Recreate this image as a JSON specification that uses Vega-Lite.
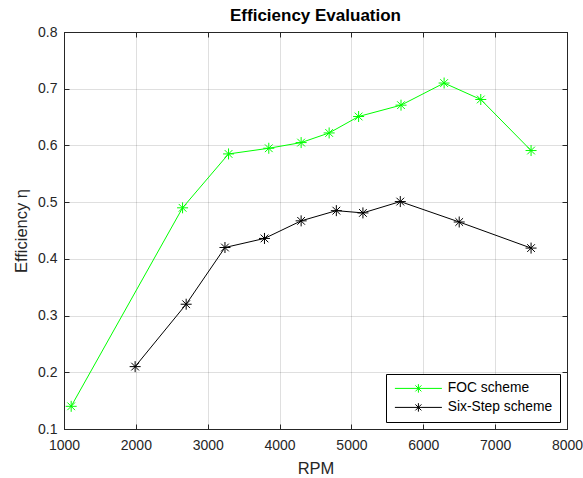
{
  "$schema": "https://vega.github.io/schema/vega-lite/v6.json",
  "width": 503,
  "height": 397,
  "autosize": "none",
  "padding": {"left": 64, "top": 32, "right": 16, "bottom": 49},
  "background": "white",
  "title": {"text": "Efficiency Evaluation", "font": "Liberation Sans", "fontSize": 17, "fontWeight": "bold", "color": "#000000", "offset": 0},
  "config": {
    "view": {"stroke": "#262626", "strokeWidth": 1},
    "axis": {
      "domainColor": "#262626",
      "tickColor": "#262626",
      "tickSize": -5,
      "labelFont": "Liberation Sans",
      "labelFontSize": 14,
      "labelColor": "#262626",
      "titleFont": "Liberation Sans",
      "titleFontSize": 16.5,
      "titleFontWeight": "normal",
      "titleColor": "#262626",
      "gridColor": "#262626",
      "gridOpacity": 0.15
    }
  },
  "data": {
    "values": [
      {"rpm": 1100, "eff": 0.14, "scheme": "FOC scheme"},
      {"rpm": 2650, "eff": 0.49, "scheme": "FOC scheme"},
      {"rpm": 3290, "eff": 0.585, "scheme": "FOC scheme"},
      {"rpm": 3850, "eff": 0.595, "scheme": "FOC scheme"},
      {"rpm": 4300, "eff": 0.605, "scheme": "FOC scheme"},
      {"rpm": 4690, "eff": 0.622, "scheme": "FOC scheme"},
      {"rpm": 5100, "eff": 0.651, "scheme": "FOC scheme"},
      {"rpm": 5690, "eff": 0.671, "scheme": "FOC scheme"},
      {"rpm": 6290, "eff": 0.71, "scheme": "FOC scheme"},
      {"rpm": 6800, "eff": 0.681, "scheme": "FOC scheme"},
      {"rpm": 7500, "eff": 0.591, "scheme": "FOC scheme"},
      {"rpm": 1990, "eff": 0.21, "scheme": "Six-Step scheme"},
      {"rpm": 2700, "eff": 0.32, "scheme": "Six-Step scheme"},
      {"rpm": 3240, "eff": 0.42, "scheme": "Six-Step scheme"},
      {"rpm": 3790, "eff": 0.436, "scheme": "Six-Step scheme"},
      {"rpm": 4300, "eff": 0.467, "scheme": "Six-Step scheme"},
      {"rpm": 4790, "eff": 0.485, "scheme": "Six-Step scheme"},
      {"rpm": 5160, "eff": 0.481, "scheme": "Six-Step scheme"},
      {"rpm": 5680, "eff": 0.501, "scheme": "Six-Step scheme"},
      {"rpm": 6500, "eff": 0.465, "scheme": "Six-Step scheme"},
      {"rpm": 7500, "eff": 0.419, "scheme": "Six-Step scheme"}
    ]
  },
  "resolve": {"axis": {"x": "independent", "y": "independent"}},
  "layer": [
    {
      "mark": {"type": "line", "strokeWidth": 1},
      "encoding": {
        "x": {"field": "rpm", "type": "quantitative", "scale": {"domain": [1000, 8000], "nice": false, "zero": false},
              "axis": {"title": "RPM", "values": [1000,2000,3000,4000,5000,6000,7000,8000], "format": "d", "labelPadding": 14, "titlePadding": 8, "labelFlush": false, "labelOverlap": false}},
        "y": {"field": "eff", "type": "quantitative", "scale": {"domain": [0.1, 0.8], "nice": false, "zero": false},
              "axis": {"title": "Efficiency η", "values": [0.1,0.2,0.3,0.4,0.5,0.6,0.7,0.8], "format": ".1f", "labelPadding": 12, "titlePadding": 8, "labelFlush": false, "labelOverlap": false}},
        "color": {"field": "scheme", "type": "nominal",
                  "scale": {"domain": ["FOC scheme", "Six-Step scheme"], "range": ["#00ff00", "#000000"]},
                  "legend": {
                    "title": null,
                    "orient": "none",
                    "legendX": 322,
                    "legendY": 342,
                    "strokeColor": "#000000",
                    "fillColor": "#ffffff",
                    "padding": 7.5,
                    "symbolType": "M-4.7,0L4.7,0M0,-0.85L0,0.85M-0.6,-0.6L0.6,0.6M-0.6,0.6L0.6,-0.6",
                    "symbolSize": 100,
                    "symbolStrokeWidth": 1,
                    "symbolFillColor": "transparent",
                    "symbolOffset": 18,
                    "labelOffset": 22.5,
                    "labelFont": "Liberation Sans",
                    "labelFontSize": 13.8,
                    "labelColor": "#000000",
                    "rowPadding": 4
                  }}
      }
    },
    {
      "mark": {"type": "point", "shape": "M-1,0L1,0M0,-1L0,1M-0.7,-0.7L0.7,0.7M-0.7,0.7L0.7,-0.7", "filled": false, "size": 121, "strokeWidth": 1, "opacity": 1},
      "encoding": {
        "x": {"field": "rpm", "type": "quantitative",
              "axis": {"orient": "top", "title": null, "labels": false, "grid": false, "values": [1000,2000,3000,4000,5000,6000,7000,8000]}},
        "y": {"field": "eff", "type": "quantitative",
              "axis": {"orient": "right", "title": null, "labels": false, "grid": false, "values": [0.1,0.2,0.3,0.4,0.5,0.6,0.7,0.8]}},
        "color": {"field": "scheme", "type": "nominal"}
      }
    }
  ]
}
